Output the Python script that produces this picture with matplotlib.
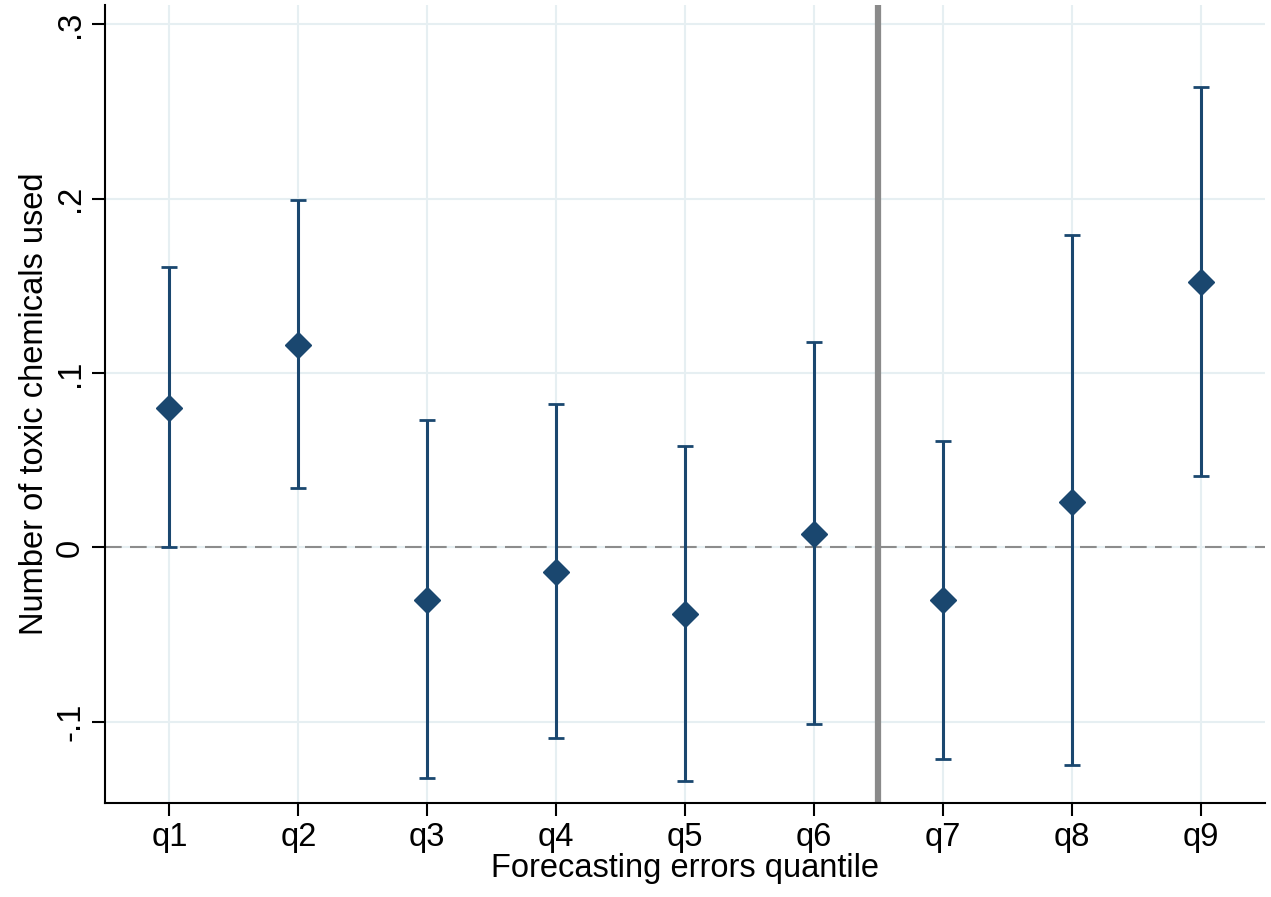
import matplotlib
matplotlib.use("Agg")
from matplotlib import pyplot as plt

labels = ['q1', 'q2', 'q3', 'q4', 'q5', 'q6', 'q7', 'q8', 'q9']
coef = [0.080, 0.116, -0.030, -0.014, -0.038, 0.008, -0.030, 0.026, 0.152]
ci_low = [0.000, 0.034, -0.132, -0.109, -0.134, -0.101, -0.121, -0.125, 0.041]
ci_high = [0.161, 0.199, 0.073, 0.082, 0.058, 0.118, 0.061, 0.179, 0.264]

plt.rcParams['font.family'] = ['Liberation Sans', 'DejaVu Sans']

navy = '#1a476f'
x = list(range(1, len(labels) + 1))

fig = plt.figure(figsize=(12.71, 8.97), dpi=100)
ax = fig.add_axes([105 / 1271, 94 / 897, 1160 / 1271, 798 / 897])

ax.grid(True, color='#e6eff2', linewidth=1.5)
ax.set_axisbelow(True)

ax.axhline(0, color='#8c8c8c', linestyle=(0, (8, 4)), linewidth=1.5, zorder=1)
ax.axvline(6.5, color='#8a8a8a', linewidth=4.5, zorder=1)

yerr = [[c - lo for c, lo in zip(coef, ci_low)], [hi - c for c, hi in zip(coef, ci_high)]]
ax.errorbar(x, coef, yerr=yerr, fmt='D', color=navy, ecolor=navy, elinewidth=2.2,
            capsize=5.5, capthick=2, markersize=13, zorder=3)

ax.set_xlim(0.5, 9.5)
ax.set_ylim(-0.1465, 0.311)
ax.set_xticks(x)
ax.set_xticklabels(labels)
ax.set_yticks([-0.1, 0, 0.1, 0.2, 0.3])
ax.set_yticklabels(['-.1', '0', '.1', '.2', '.3'], rotation=90, va='center')

ax.tick_params(axis='both', length=9.5, width=1.5, labelsize=23.5, color='black', pad=4)
ax.spines['top'].set_visible(False)
ax.spines['right'].set_visible(False)
for s in ('left', 'bottom'):
    ax.spines[s].set_linewidth(1.5)

ax.set_xlabel('Forecasting errors quantile', fontsize=23.5, labelpad=0)
ax.set_ylabel('Number of toxic chemicals used', fontsize=23.5, labelpad=4)

fig.savefig('out.png', dpi=100)
